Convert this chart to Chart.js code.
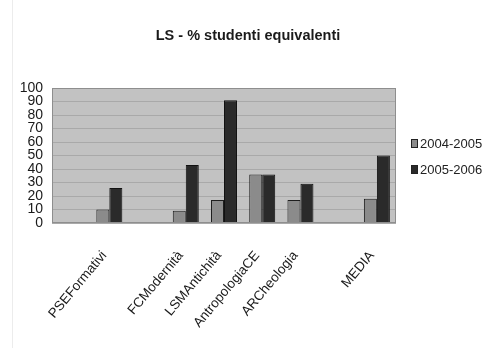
<!DOCTYPE html>
<html>
<head>
<meta charset="utf-8">
<script src="https://cdn.jsdelivr.net/npm/chart.js@4.4.1/dist/chart.umd.min.js"></script>
<style>
  html, body { margin: 0; padding: 0; background: #ffffff; }
  #wrap { position: relative; width: 483px; height: 348px; }
  #edge { position: absolute; left: 12px; top: 0; width: 1px; height: 348px; background: #ececec; }
</style>
</head>
<body>
<div id="wrap">
  <div id="edge"></div>
  <canvas id="c" width="483" height="348"></canvas>
</div>
<script>
// Corsi di laurea (le colonne vuote separano i gruppi)
const categories = ['', 'PSEFormativi', '', 'FCModernità', 'LSMAntichità', 'AntropologiaCE', 'ARCheologia', '', 'MEDIA'];
const seriesNames = ['2004-2005', '2005-2006'];
const values2004 = [null, 10, null, 9, 17, 36, 17, null, 18];
const values2005 = [null, 26, null, 43, 91, 36, 29, null, 50];
const yTicks = [0, 10, 20, 30, 40, 50, 60, 70, 80, 90, 100];

const colors = ['#8b8b8b', '#2a2a2a'];

// Grey plot background and outline
const plotBackground = {
  id: 'plotBackground',
  beforeDraw(chart) {
    const { ctx, chartArea: a } = chart;
    ctx.save();
    ctx.fillStyle = '#c2c2c2';
    ctx.fillRect(a.left, a.top, a.right - a.left, a.bottom - a.top);
    ctx.restore();
  },
  afterDatasetsDraw(chart) {
    const { ctx, chartArea: a } = chart;
    ctx.save();
    ctx.strokeStyle = '#8e8e8e';
    ctx.lineWidth = 1;
    ctx.strokeRect(a.left + 0.5, a.top + 0.5, a.right - a.left - 1, a.bottom - a.top - 1);
    ctx.restore();
  }
};

// Legend at the right of the plot
const sideLegend = {
  id: 'sideLegend',
  afterDraw(chart) {
    const { ctx, chartArea: a } = chart;
    const x = a.right + 15;
    const mid = (a.top + a.bottom) / 2;
    const rows = [mid - 12, mid + 14];
    ctx.save();
    ctx.font = '13px "Liberation Sans Narrow", "Liberation Sans", Arial, sans-serif';
    ctx.textBaseline = 'middle';
    chart.data.datasets.forEach((ds, i) => {
      const y = rows[i];
      ctx.fillStyle = ds.backgroundColor;
      ctx.fillRect(x, y - 4.5, 7, 9);
      ctx.strokeStyle = '#222';
      ctx.lineWidth = 1;
      ctx.strokeRect(x + 0.5, y - 4.5 + 0.5, 6, 8);
      ctx.fillStyle = '#222';
      ctx.fillText(ds.label, x + 9, y + 1);
    });
    ctx.restore();
  }
};

new Chart(document.getElementById('c'), {
  type: 'bar',
  data: {
    labels: categories,
    datasets: [
      { label: seriesNames[0], data: values2004, backgroundColor: colors[0], borderColor: '#1e1e1e', borderWidth: 1 },
      { label: seriesNames[1], data: values2005, backgroundColor: colors[1], borderColor: '#111111', borderWidth: 1 }
    ]
  },
  options: {
    responsive: false,
    animation: false,
    layout: { padding: { left: 13, right: 0, top: 0, bottom: 0 } },
    datasets: { bar: { barPercentage: 1.0, categoryPercentage: 0.68 } },
    plugins: {
      legend: { display: false },
      tooltip: { enabled: false },
      title: {
        display: true,
        text: 'LS - % studenti equivalenti',
        color: '#1a1a1a',
        font: { family: '"Liberation Sans", Arial, sans-serif', size: 14.5, weight: 'bold', lineHeight: 1.2 },
        padding: { top: 27, bottom: 43.6 }
      }
    },
    scales: {
      y: {
        min: 0,
        max: 100,
        afterFit(scale) { scale.width = 52 - 13; },
        afterBuildTicks(scale) { scale.ticks = yTicks.map(v => ({ value: v })); },
        grid: { color: '#a9a9a9', lineWidth: 1, drawTicks: false },
        border: { display: false },
        ticks: {
          autoSkip: false,
          padding: 9,
          color: '#1a1a1a',
          font: { family: '"Liberation Sans Narrow", "Liberation Sans", Arial, sans-serif', size: 14 }
        }
      },
      // empty right-hand axis that reserves the room for the legend
      legendSpace: {
        type: 'linear',
        position: 'right',
        min: 0,
        max: 100,
        afterFit(scale) { scale.width = 483 - 396; },
        grid: { display: false, drawTicks: false },
        border: { display: false },
        ticks: { display: false }
      },
      x: {
        afterFit(scale) { scale.height = 348 - 223; },
        grid: { display: false, drawTicks: false },
        border: { display: false },
        ticks: {
          autoSkip: false,
          minRotation: 50,
          maxRotation: 50,
          padding: 25,
          labelOffset: -5,
          color: '#1a1a1a',
          font: { family: '"Liberation Sans", Arial, sans-serif', size: 13.5 }
        }
      }
    }
  },
  plugins: [plotBackground, sideLegend]
});
</script>
</body>
</html>
